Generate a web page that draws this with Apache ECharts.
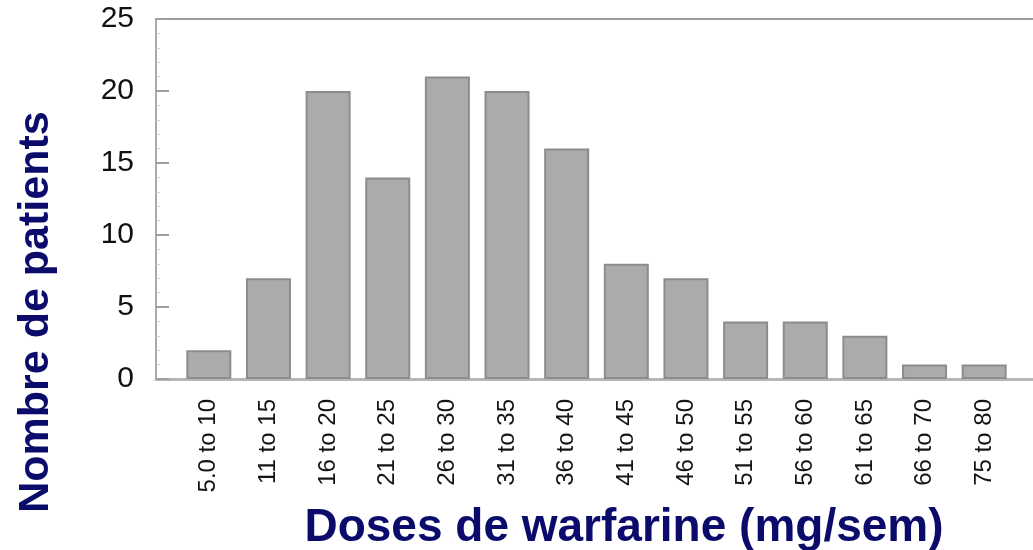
<!DOCTYPE html>
<html>
<head>
<meta charset="utf-8">
<script src="https://cdn.jsdelivr.net/npm/echarts@6/dist/echarts.min.js"></script>
<style>
  html, body { margin: 0; padding: 0; background: #fff; }
  #chart { width: 1033px; height: 550px; }
</style>
</head>
<body>
<div id="chart"></div>
<script>
// classes de doses (mg/sem)
const doseClasses = ['5.0 to 10', '11 to 15', '16 to 20', '21 to 25', '26 to 30', '31 to 35', '36 to 40',
  '41 to 45', '46 to 50', '51 to 55', '56 to 60', '61 to 65', '66 to 70', '75 to 80']
// nombre de patients par classe
const patientCounts = [2, 7, 20, 14, 21, 20, 16, 8, 7, 4, 4, 3, 1, 1]
const yTicks = [0, 5, 10, 15, 20, 25]

const font = "'Liberation Sans', Arial, sans-serif"
const navy = '#0b0b6b'

const chart = echarts.init(document.getElementById('chart'))
chart.setOption({
  animation: false,
  grid: [
    // barres
    { left: 179, right: 19, top: 19, bottom: 171 },
    // cadre + axe Y
    { left: 156, right: 0, top: 19, bottom: 171 }
  ],
  xAxis: [
    {
      type: 'category',
      gridIndex: 0,
      data: doseClasses,
      axisLine: { show: false },
      axisTick: { show: false },
      axisLabel: {
        rotate: 90,
        margin: 20,
        interval: 0,
        fontSize: 24,
        fontFamily: font,
        color: '#141414'
      }
    },
    {
      type: 'value',
      gridIndex: 1,
      position: 'bottom',
      min: 0,
      max: 1,
      axisLine: { show: true, lineStyle: { color: '#b6b6b6', width: 3 } },
      axisTick: { show: false },
      axisLabel: { show: false },
      splitLine: { show: false }
    },
    {
      type: 'value',
      gridIndex: 1,
      position: 'top',
      min: 0,
      max: 1,
      axisLine: { show: true, lineStyle: { color: '#9c9c9c', width: 2 } },
      axisTick: { show: false },
      axisLabel: { show: false },
      splitLine: { show: false }
    }
  ],
  yAxis: [
    {
      type: 'value',
      gridIndex: 0,
      min: yTicks[0],
      max: yTicks[yTicks.length - 1],
      show: false
    },
    {
      type: 'value',
      gridIndex: 1,
      min: yTicks[0],
      max: yTicks[yTicks.length - 1],
      interval: 5,
      axisLine: { show: true, lineStyle: { color: '#ababab', width: 2 } },
      axisTick: { show: true, inside: true, length: 13, lineStyle: { color: '#a0a0a0', width: 2 } },
      minorTick: { show: true, splitNumber: 5, length: 4, lineStyle: { color: '#d4d4d4' } },
      axisLabel: {
        margin: 22,
        fontSize: 30,
        fontFamily: font,
        color: '#111',
        formatter: v => (yTicks.includes(v) ? String(v) : '')
      },
      splitLine: { show: false }
    }
  ],
  series: [
    {
      type: 'bar',
      xAxisIndex: 0,
      yAxisIndex: 0,
      barWidth: 45,
      data: patientCounts,
      itemStyle: { color: '#ababab', borderColor: '#8c8c8c', borderWidth: 2 }
    }
  ],
  graphic: [
    {
      type: 'text',
      x: 36,
      y: 312,
      rotation: Math.PI / 2,
      style: {
        text: 'Nombre de patients',
        fill: navy,
        font: 'bold 43px ' + font,
        textAlign: 'center',
        textVerticalAlign: 'middle'
      }
    },
    {
      type: 'text',
      x: 624,
      y: 528,
      style: {
        text: 'Doses de warfarine (mg/sem)',
        fill: navy,
        font: 'bold 46px ' + font,
        textAlign: 'center',
        textVerticalAlign: 'middle'
      }
    }
  ]
})
</script>
</body>
</html>
